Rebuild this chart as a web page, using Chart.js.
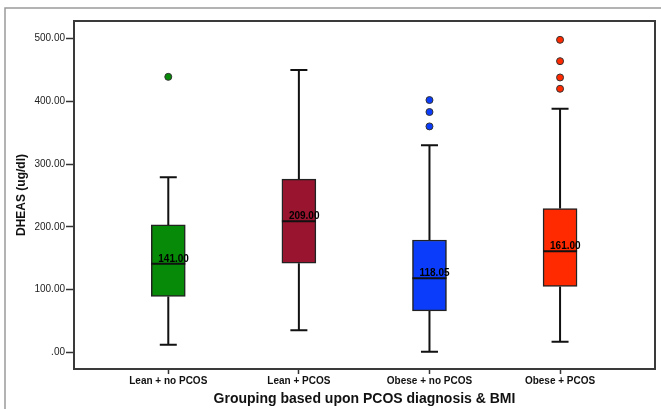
<!DOCTYPE html>
<html>
<head>
<meta charset="utf-8">
<script src="https://cdn.jsdelivr.net/npm/chart.js@4.4.0/dist/chart.umd.min.js"></script>
<style>
  html, body { margin: 0; padding: 0; background: #fff; }
  #wrap { width: 661px; height: 409px; }
</style>
</head>
<body>
<div id="wrap"><canvas id="chart"></canvas></div>
<script>
const groups = ['Lean + no PCOS', 'Lean + PCOS', 'Obese + no PCOS', 'Obese + PCOS'];
const whiskLow = [12, 35, 1, 17];
const q1 = [89, 142, 66, 105];
const medians = [141.00, 209.00, 118.05, 161.00];
const q3 = [203, 276, 179, 229];
const whiskHigh = [279, 450, 330, 388];
const outliers = [[439], [], [402, 383, 360], [498, 464, 438, 420]];
const colors = ['#078a07', '#99142f', '#0a3cfa', '#ff2a00'];
const yTicks = [0, 100, 200, 300, 400, 500];

const FONT = '"Liberation Sans", Arial, sans-serif';

// gray outer border of the figure
const outerBorder = {
  id: 'outerBorder',
  beforeDraw(chart) {
    const ctx = chart.ctx;
    ctx.save();
    ctx.strokeStyle = '#9a9a9a';
    ctx.lineWidth = 1.5;
    ctx.beginPath();
    ctx.moveTo(5, 409);
    ctx.lineTo(5, 8);
    ctx.lineTo(661, 8);
    ctx.stroke();
    ctx.restore();
  }
};

// whiskers, medians, median labels and the plot frame
const boxParts = {
  id: 'boxParts',
  afterDatasetsDraw(chart) {
    const ctx = chart.ctx;
    const x = chart.scales.x, y = chart.scales.y;
    ctx.save();
    ctx.strokeStyle = '#111';
    ctx.lineWidth = 2;
    groups.forEach((g, i) => {
      const cx = x.getPixelForValue(i);
      const cap = 8.5, half = 17;
      ctx.beginPath();
      ctx.moveTo(cx, y.getPixelForValue(q3[i]));
      ctx.lineTo(cx, y.getPixelForValue(whiskHigh[i]));
      ctx.moveTo(cx, y.getPixelForValue(q1[i]));
      ctx.lineTo(cx, y.getPixelForValue(whiskLow[i]));
      ctx.moveTo(cx - cap, y.getPixelForValue(whiskHigh[i]));
      ctx.lineTo(cx + cap, y.getPixelForValue(whiskHigh[i]));
      ctx.moveTo(cx - cap, y.getPixelForValue(whiskLow[i]));
      ctx.lineTo(cx + cap, y.getPixelForValue(whiskLow[i]));
      const my = y.getPixelForValue(medians[i]);
      ctx.moveTo(cx - half, my);
      ctx.lineTo(cx + half, my);
      ctx.stroke();

      ctx.fillStyle = '#000';
      ctx.font = 'bold 10px ' + FONT;
      ctx.textAlign = 'left';
      ctx.textBaseline = 'alphabetic';
      ctx.fillText(medians[i].toFixed(2), cx - 10, my - 2);
    });
    const a = chart.chartArea;
    ctx.strokeStyle = '#3a3a3a';
    ctx.lineWidth = 2;
    ctx.strokeRect(a.left, a.top, a.right - a.left, a.bottom - a.top);
    ctx.restore();
  }
};

const boxData = groups.map((g, i) => ({ x: i, y: [q1[i], q3[i]] }));
const outlierData = [];
outliers.forEach((list, i) => list.forEach(v => outlierData.push({ x: i, y: v })));

new Chart(document.getElementById('chart'), {
  type: 'bar',
  data: {
    datasets: [{
      data: boxData,
      backgroundColor: colors,
      borderColor: '#222',
      borderWidth: 1.5,
      borderSkipped: false,
      barThickness: 34
    }, {
      type: 'scatter',
      data: outlierData,
      pointRadius: 3.5,
      pointBorderWidth: 1,
      pointBorderColor: '#333',
      pointBackgroundColor: ctx => colors[ctx.raw ? ctx.raw.x : 0]
    }]
  },
  options: {
    responsive: true,
    maintainAspectRatio: false,
    animation: false,
    layout: { padding: { top: 21, right: 6, left: 0, bottom: 0 } },
    plugins: { legend: { display: false }, tooltip: { enabled: false } },
    scales: {
      x: {
        type: 'linear',
        offset: false,
        min: -0.722,
        max: 3.727,
        afterBuildTicks: s => { s.ticks = groups.map((g, i) => ({ value: i })); },
        afterFit: s => { s.height = 40; },
        grid: { offset: false, drawOnChartArea: false, tickLength: 5, color: '#333', tickWidth: 1.5 },
        border: { display: false },
        ticks: {
          callback: v => groups[v],
          font: { family: FONT, size: 10, weight: 'bold' },
          color: '#111',
          padding: 1,
          maxRotation: 0
        },
        title: {
          display: true,
          text: 'Grouping based upon PCOS diagnosis & BMI',
          font: { family: FONT, size: 14, weight: 'bold' },
          color: '#111',
          padding: { top: 0, bottom: 1 }
        }
      },
      y: {
        min: -26.6,
        max: 528,
        afterBuildTicks: s => { s.ticks = yTicks.map(v => ({ value: v })); },
        afterFit: s => { s.width = 74; },
        grid: { drawOnChartArea: false, tickLength: 8, color: '#333', tickWidth: 1.5 },
        border: { display: false },
        ticks: {
          callback: v => v === 0 ? '.00' : v.toFixed(2),
          font: { family: FONT, size: 10 },
          color: '#222',
          padding: 1
        },
        title: {
          display: true,
          text: 'DHEAS (ug/dl)',
          font: { family: FONT, size: 12, weight: 'bold' },
          color: '#111',
          padding: { top: 14, bottom: 0 }
        }
      }
    }
  },
  plugins: [outerBorder, boxParts]
});
</script>
</body>
</html>
